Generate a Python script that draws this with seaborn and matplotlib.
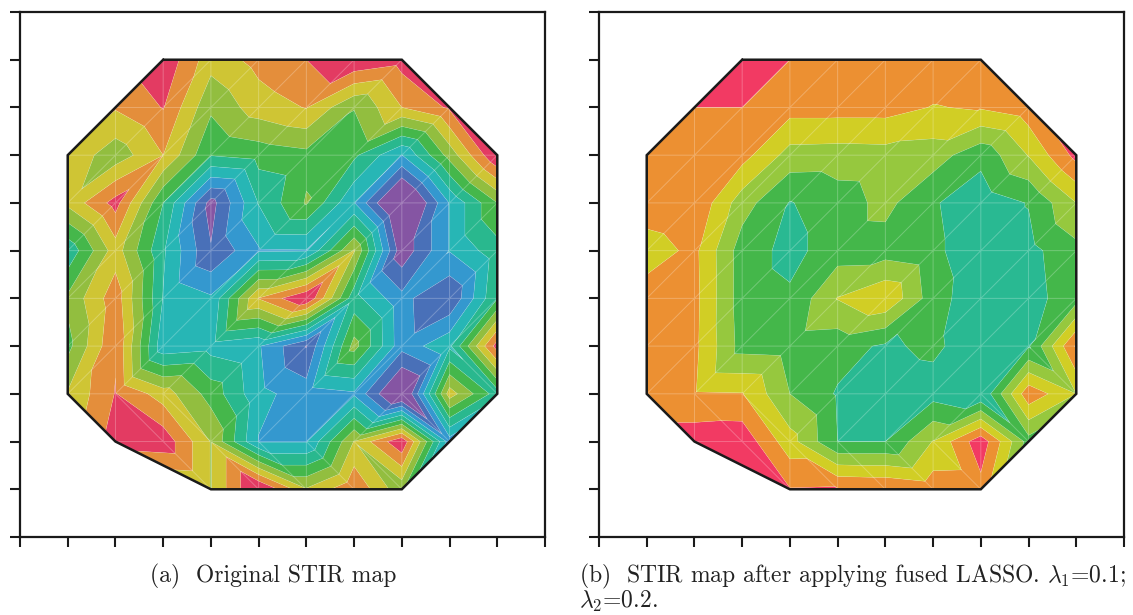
import numpy as np
import matplotlib
matplotlib.use('Agg')
import matplotlib.pyplot as plt
import matplotlib.tri as mtri
from matplotlib.colors import ListedColormap, BoundaryNorm
import seaborn as sns

sns.set_style('ticks')
plt.rcParams['mathtext.fontset'] = 'cm'

# first electrode column in every row, row y=10 on top
row_y = [10, 9, 8, 7, 6, 5, 4, 3, 2, 1]
row_start = [3, 2, 1, 1, 1, 1, 1, 1, 2, 4]

# values, band k means k <= value < k+1
stir_original = [
    [0.2, 2.6, 1.65, 1.0, 0.05, 0.6],
    [1.9, 0.95, 3.8, 2.5, 1.95, 3.95, 2.0, 0.85],
    [2.25, 3.6, 2.0, 4.95, 4.6, 4.3, 4.8, 7.03, 3.6, 0.0],
    [2.75, 0.6, 5.0, 9.4, 5.95, 3.9, 6.95, 11.2, 6.95, 4.0],
    [5.75, 2.5, 5.85, 8.92, 7.1, 7.05, 2.9, 9.7, 6.95, 5.4],
    [3.8, 1.4, 6.05, 6.85, 1.95, 0.0, 5.65, 7.7, 8.95, 5.05],
    [4.3, 1.1, 6.7, 6.4, 6.9, 9.05, 3.6, 7.65, 6.2, 0.5],
    [2.9, 0.95, 2.5, 4.4, 6.7, 7.5, 7.15, 10.7, 2.5, 5.5],
    [0.5, 0.32, 3.05, 7.05, 7.05, 2.95, 0.15, 7.5],
    [3.05, -0.25, 2.9, 1.13, 3.69],
]
stir_lasso = [
    [0.0, 1.0, 1.3, 1.3, 1.3, 1.3],
    [1.0, 1.0, 1.6, 1.6, 1.6, 2.05, 1.9, 1.4],
    [1.3, 1.3, 1.6, 3.4, 3.45, 3.4, 3.5, 4.7, 2.95, 0.68],
    [1.4, 1.1, 3.55, 5.05, 4.5, 3.7, 4.9, 5.6, 4.95, 3.0],
    [2.5, 1.75, 4.5, 5.3, 4.5, 4.45, 4.8, 5.6, 5.3, 4.3],
    [1.5, 1.7, 4.5, 4.85, 2.95, 2.1, 4.55, 5.7, 5.4, 4.4],
    [1.3, 1.75, 4.4, 4.5, 4.6, 5.15, 4.8, 5.6, 5.1, 0.85],
    [1.9, 1.9, 1.95, 4.0, 5.1, 5.5, 5.4, 5.95, 1.3, 3.0],
    [0.4, 0.3, 2.6, 5.0, 5.0, 2.95, 0.35, 4.4],
    [0.95, 0.9, 1.0, 1.4, 1.35],
]

band_edges = [-1, 1, 2, 3, 4, 5, 6, 7, 8, 9, 12]
colors_a = ['#E33B62', '#E48E3B', '#CFC534', '#92BE3F', '#45B74B',
            '#29B88E', '#27B6B5', '#3498CF', '#4970B8', '#8555A3']
colors_b = ['#F23A63', '#EC9032', '#D1CE25', '#96C83E', '#44B74A',
            '#29B992', '#27B6B5', '#3498CF', '#4970B8', '#8555A3']

caption_a = '(a)  Original STIR map'
caption_b1 = '(b)  STIR map after applying fused LASSO. $\\lambda_1$=0.1;'
caption_b2 = '$\\lambda_2$=0.2.'

# cells whose triangle edge runs top left to bottom right (lower left corner)
back_cells = [(9, 3), (2, 2), (3, 2), (8, 2), (4, 1), (5, 1), (6, 1), (7, 1)]


def build_mesh(rows):
    xs, ys, zs = [], [], []
    index = {}
    for y, start, vals in zip(row_y, row_start, rows):
        for i, v in enumerate(vals):
            index[(start + i, y)] = len(xs)
            xs.append(start + i)
            ys.append(y)
            zs.append(v)
    triangles = []
    for x in range(1, 10):
        for y in range(1, 10):
            a, b = index.get((x, y)), index.get((x + 1, y))
            c, d = index.get((x, y + 1)), index.get((x + 1, y + 1))
            corners = [k for k in (a, b, c, d) if k is not None]
            if len(corners) == 3:
                triangles.append(corners)
            elif len(corners) == 4:
                if (x, y) in back_cells:
                    triangles += [[a, b, c], [b, d, c]]
                else:
                    triangles += [[a, b, d], [a, d, c]]
    # sloping lower left edge skips a node
    triangles.append([index[(2, 2)], index[(4, 1)], index[(3, 2)]])
    return mtri.Triangulation(xs, ys, triangles), np.array(zs)


def hull_line():
    left = [(s, y) for y, s in zip(row_y, row_start)]
    right = [(s + len(v) - 1, y) for y, s, v in zip(row_y, row_start, stir_original)]
    pts = left + right[::-1] + left[:1]
    return [p[0] for p in pts], [p[1] for p in pts]


def draw_map(ax, rows, colors):
    mesh, z = build_mesh(rows)
    palette = sns.color_palette(colors)
    cmap = ListedColormap(palette)
    norm = BoundaryNorm(band_edges, cmap.N)
    ax.tricontourf(mesh, z, levels=band_edges, cmap=cmap, norm=norm, antialiased=True)
    ax.tricontour(mesh, z, levels=band_edges[1:-1], colors='white', linewidths=0.3, alpha=0.3)
    ax.triplot(mesh, color='white', lw=0.7, alpha=0.25)
    hx, hy = hull_line()
    ax.plot(hx, hy, color='#1a1a1a', lw=1.8, solid_joinstyle='miter')
    ax.set_xlim(0, 11)
    ax.set_ylim(0, 11)
    ax.set_xticks(range(12))
    ax.set_yticks(range(12))
    ax.set_xticklabels([])
    ax.set_yticklabels([])
    ax.tick_params(length=7.5, width=1.5, color='#1a1a1a')
    for s in ax.spines.values():
        s.set_linewidth(1.6)
        s.set_color('#1a1a1a')


W, H = 1133, 615
fig = plt.figure(figsize=(W / 100, H / 100), dpi=100)
ax1 = fig.add_axes([20 / W, 1 - 537 / H, 525 / W, 525 / H])
ax2 = fig.add_axes([599 / W, 1 - 537 / H, 525 / W, 525 / H])
draw_map(ax1, stir_original, colors_a)
draw_map(ax2, stir_lasso, colors_b)

fig.text(150 / W, 1 - 582 / H, caption_a, family='cmr10', fontsize=17, color='#222222', va='baseline')
fig.text(579 / W, 1 - 582 / H, caption_b1, family='cmr10', fontsize=17, color='#222222', va='baseline')
fig.text(579 / W, 1 - 608 / H, caption_b2, family='cmr10', fontsize=17, color='#222222', va='baseline')

fig.savefig('out.png', dpi=100)
